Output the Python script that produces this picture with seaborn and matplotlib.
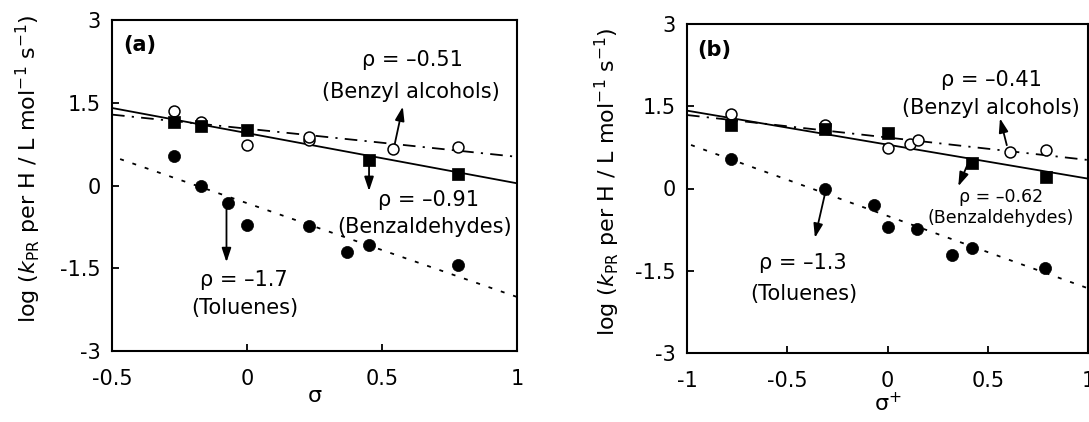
import numpy as np
import pandas as pd
import matplotlib
matplotlib.use("Agg")
import matplotlib.pyplot as plt
import seaborn as sns

# ---------------- data ----------------
# substituent constants
sigma_alc = [-0.27, -0.17, 0.00, 0.23, 0.23, 0.54, 0.78]
sigmap_alc = [-0.78, -0.31, 0.00, 0.11, 0.15, 0.61, 0.79]
logk_alc = [1.35, 1.15, 0.74, 0.82, 0.88, 0.67, 0.70]

sigma_ald = [-0.27, -0.17, 0.00, 0.45, 0.78]
sigmap_ald = [-0.78, -0.31, 0.00, 0.42, 0.79]
logk_ald = [1.15, 1.08, 1.01, 0.46, 0.21]

sigma_tol = [-0.27, -0.17, -0.07, 0.00, 0.23, 0.37, 0.45, 0.78]
sigmap_tol = [-0.78, -0.31, -0.066, 0.00, 0.148, 0.32, 0.42, 0.785]
logk_tol = [0.53, -0.01, -0.31, -0.71, -0.73, -1.21, -1.08, -1.45]

# Hammett fit lines: slope (rho), intercept, x-range
fit_a_slope = {"alc": -0.51, "ald": -0.91, "tol": -1.70}
fit_a_icpt = {"alc": 1.03, "ald": 0.95, "tol": -0.32}
fit_a_xrange = {"alc": [-0.5, 1.0], "ald": [-0.5, 1.0], "tol": [-0.47, 1.0]}
fit_b_slope = {"alc": -0.41, "ald": -0.62, "tol": -1.32}
fit_b_icpt = {"alc": 0.93, "ald": 0.80, "tol": -0.50}
fit_b_xrange = {"alc": [-1.0, 1.0], "ald": [-1.0, 1.0], "tol": [-0.98, 1.0]}

rho_a_labels = {"alc": "ρ = –0.51", "ald": "ρ = –0.91", "tol": "ρ = –1.7"}
rho_b_labels = {"alc": "ρ = –0.41", "ald": "ρ = –0.62", "tol": "ρ = –1.3"}
name_labels = {"alc": "(Benzyl alcohols)", "ald": "(Benzaldehydes)", "tol": "(Toluenes)"}

yticks = [-3, -1.5, 0, 1.5, 3]
ytick_labels = ["-3", "-1.5", "0", "1.5", "3"]
xticks_a = [-0.5, 0, 0.5, 1]
xtick_labels_a = ["-0.5", "0", "0.5", "1"]
xticks_b = [-1, -0.5, 0, 0.5, 1]
xtick_labels_b = ["-1", "-0.5", "0", "0.5", "1"]

# ---------------- style ----------------
sns.set_style("ticks")
plt.rcParams["font.family"] = ["DejaVu Sans"]
plt.rcParams["mathtext.fontset"] = "dejavusans"
plt.rcParams["axes.unicode_minus"] = False
for k in ["text.color", "axes.labelcolor", "xtick.color", "ytick.color",
          "axes.edgecolor"]:
    plt.rcParams[k] = "black"

W, H = 1089, 422
fig = plt.figure(figsize=(W / 100, H / 100), dpi=100)
axA = fig.add_axes([112 / W, (H - 351) / H, 405 / W, 331 / H])
axB = fig.add_axes([687 / W, (H - 353) / H, 401 / W, 329 / H])

LW = 1.3
styles = {
    "ald": "-",
    "alc": (0, (7.0, 4.0, 1.2, 4.0)),
    "tol": (0, (2.2, 5.0)),
}


def draw_panel(ax, xs_alc, xs_ald, xs_tol, slope, icpt, xr, xlim, xticks, xtl):
    # fit lines
    for key in ["alc", "ald", "tol"]:
        xx = np.array(xr[key])
        yy = icpt[key] + slope[key] * xx
        sns.lineplot(x=xx, y=yy, ax=ax, color="black", lw=LW,
                     linestyle=styles[key], zorder=2)
    # markers
    sns.scatterplot(x=xs_alc, y=logk_alc, ax=ax, marker="o", s=62,
                    color="white", edgecolor="black", linewidth=1.1, zorder=3)
    sns.scatterplot(x=xs_ald, y=logk_ald, ax=ax, marker="s", s=72,
                    color="black", edgecolor="black", linewidth=0.5, zorder=4)
    sns.scatterplot(x=xs_tol, y=logk_tol, ax=ax, marker="o", s=76,
                    color="black", edgecolor="black", linewidth=0.5, zorder=4)
    ax.set_xlim(*xlim)
    ax.set_ylim(-3, 3)
    ax.set_xticks(xticks)
    ax.set_xticklabels(xtl)
    ax.set_yticks(yticks)
    ax.set_yticklabels(ytick_labels)
    ax.tick_params(axis="both", direction="in", length=5, width=1.3,
                   labelsize=15, top=False, right=False, colors="black")
    ax.tick_params(axis="x", pad=13)
    ax.tick_params(axis="y", pad=8)
    for sp in ax.spines.values():
        sp.set_linewidth(1.5)
        sp.set_color("black")
    ax.set_ylabel(r"log ($k_{\rm PR}$ per H / L mol$^{-1}$ s$^{-1}$)", fontsize=16,
                  color="black")


draw_panel(axA, sigma_alc, sigma_ald, sigma_tol, fit_a_slope, fit_a_icpt,
           fit_a_xrange, (-0.5, 1.0), xticks_a, xtick_labels_a)
draw_panel(axB, sigmap_alc, sigmap_ald, sigmap_tol, fit_b_slope, fit_b_icpt,
           fit_b_xrange, (-1.0, 1.0), xticks_b, xtick_labels_b)

axA.set_xlabel("σ", fontsize=16, color="black")
axB.set_xlabel(r"σ$^{+}$", fontsize=16, color="black")
axA.xaxis.set_label_coords(0.5, -0.105)
axB.xaxis.set_label_coords(0.5, -0.118)
axA.yaxis.set_label_coords(-0.170, 0.55)
axB.yaxis.set_label_coords(-0.162, 0.52)

axA.text(-0.46, 2.55, "(a)", fontsize=15, fontweight="bold", ha="left", va="center")
axB.text(-0.95, 2.52, "(b)", fontsize=15, fontweight="bold", ha="left", va="center")

arrow = dict(arrowstyle="-|>,head_length=0.6,head_width=0.2", color="black",
             lw=1.3, mutation_scale=14, shrinkA=0, shrinkB=0)
FS = 15

# panel (a) annotations
axA.text(0.611, 2.27, rho_a_labels["alc"], fontsize=FS, ha="center", va="center")
axA.text(0.607, 1.69, name_labels["alc"], fontsize=FS, ha="center", va="center")
axA.annotate("", xy=(0.577, 1.43), xytext=(0.548, 0.77), arrowprops=arrow)
axA.text(0.674, -0.26, rho_a_labels["ald"], fontsize=FS, ha="center", va="center")
axA.text(0.656, -0.75, name_labels["ald"], fontsize=FS, ha="center", va="center")
axA.annotate("", xy=(0.452, -0.10), xytext=(0.452, 0.39), arrowprops=arrow)
axA.text(-0.011, -1.71, rho_a_labels["tol"], fontsize=FS, ha="center", va="center")
axA.text(-0.007, -2.22, name_labels["tol"], fontsize=FS, ha="center", va="center")
axA.annotate("", xy=(-0.076, -1.39), xytext=(-0.076, -0.39), arrowprops=arrow)

# panel (b) annotations
axB.text(0.516, 1.98, rho_b_labels["alc"], fontsize=FS, ha="center", va="center")
axB.text(0.516, 1.47, name_labels["alc"], fontsize=FS, ha="center", va="center")
axB.annotate("", xy=(0.561, 1.28), xytext=(0.595, 0.79), arrowprops=arrow)
axB.text(0.566, -0.15, rho_b_labels["ald"], fontsize=12.5, ha="center", va="center")
axB.text(0.566, -0.53, name_labels["ald"], fontsize=12.5, ha="center", va="center")
axB.annotate("", xy=(0.353, 0.04), xytext=(0.403, 0.47), arrowprops=arrow)
axB.text(-0.421, -1.35, rho_b_labels["tol"], fontsize=FS, ha="center", va="center")
axB.text(-0.416, -1.93, name_labels["tol"], fontsize=FS, ha="center", va="center")
axB.annotate("", xy=(-0.362, -0.90), xytext=(-0.312, -0.10), arrowprops=arrow)

fig.savefig("out.png", dpi=100, facecolor="white")
